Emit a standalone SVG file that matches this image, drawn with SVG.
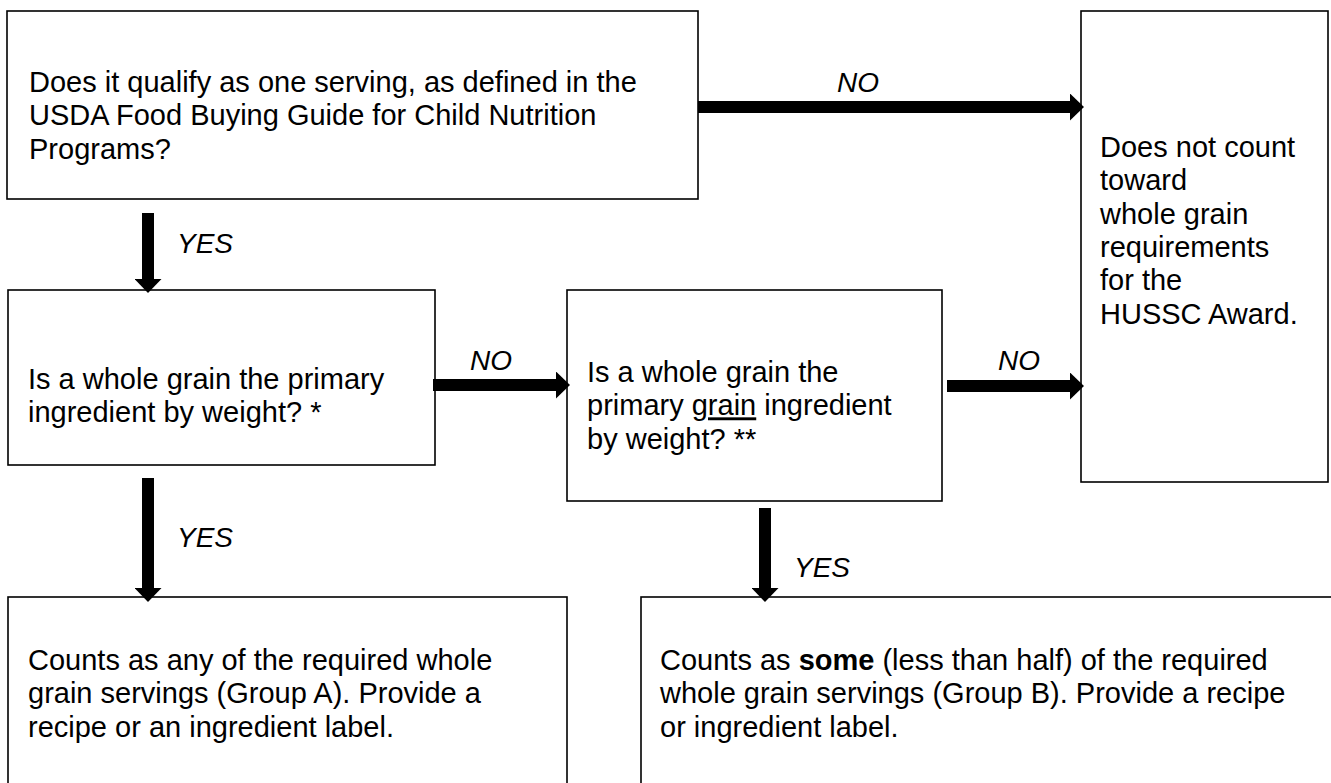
<svg xmlns="http://www.w3.org/2000/svg" width="1331" height="783" viewBox="0 0 1331 783">
<style>
.box{fill:#fff;stroke:#000;stroke-width:1.6}
.t{font-family:"Liberation Sans",Arial,sans-serif;font-size:29px;fill:#000}
.lbl{font-family:"Liberation Sans",Arial,sans-serif;font-size:28px;font-style:italic;fill:#000}
.arr{stroke:#000;stroke-width:12;fill:none;marker-end:url(#head)}
</style>
<defs>
<marker id="head" markerUnits="userSpaceOnUse" markerWidth="14" markerHeight="27" refX="0" refY="13.5" orient="auto">
<path d="M0,0 L14,13.5 L0,27 Z" fill="#000"/>
</marker>
</defs>
<rect width="1331" height="783" fill="#fff"/>
<g id="q1">
<rect class="box" x="7" y="11" width="691" height="188"/>
<text class="t" x="29" y="92"><tspan x="29">Does it qualify as one serving, as defined in the</tspan><tspan x="29" dy="33.35">USDA Food Buying Guide for Child Nutrition</tspan><tspan x="29" dy="33.35">Programs?</tspan></text>
</g>
<g id="notcount">
<rect class="box" x="1081" y="11" width="247" height="471"/>
<text class="t" x="1100" y="157"><tspan x="1100">Does not count</tspan><tspan x="1100" dy="33.35">toward</tspan><tspan x="1100" dy="33.35">whole grain</tspan><tspan x="1100" dy="33.35">requirements</tspan><tspan x="1100" dy="33.35">for the</tspan><tspan x="1100" dy="33.35">HUSSC Award.</tspan></text>
</g>
<g id="q2">
<rect class="box" x="8" y="290" width="427" height="175"/>
<text class="t" x="28" y="389"><tspan x="28">Is a whole grain the primary</tspan><tspan x="28" dy="33.35">ingredient by weight? *</tspan></text>
</g>
<g id="q3">
<rect class="box" x="567" y="290" width="375" height="211"/>
<text class="t" x="587" y="382"><tspan x="587">Is a whole grain the</tspan><tspan x="587" dy="33.35">primary <tspan text-decoration="underline">grain</tspan> ingredient</tspan><tspan x="587" dy="33.35">by weight? **</tspan></text>
</g>
<g id="groupA">
<rect class="box" x="8" y="597" width="559" height="200"/>
<text class="t" x="28" y="670"><tspan x="28">Counts as any of the required whole</tspan><tspan x="28" dy="33.35">grain servings (Group A). Provide a</tspan><tspan x="28" dy="33.35">recipe or an ingredient label.</tspan></text>
</g>
<g id="groupB">
<rect class="box" x="641" y="597" width="700" height="200"/>
<text class="t" x="660" y="670"><tspan x="660">Counts as <tspan font-weight="bold">some</tspan> (less than half) of the required</tspan><tspan x="660" dy="33.35">whole grain servings (Group B). Provide a recipe</tspan><tspan x="660" dy="33.35">or ingredient label.</tspan></text>
</g>
<g id="connectors">
<line class="arr" x1="698" y1="107" x2="1070" y2="107"/>
<line class="arr" x1="148" y1="213" x2="148" y2="279"/>
<line class="arr" x1="433" y1="385" x2="556" y2="385"/>
<line class="arr" x1="947" y1="386" x2="1070" y2="386"/>
<line class="arr" x1="148" y1="478" x2="148" y2="588"/>
<line class="arr" x1="765" y1="508" x2="765" y2="588"/>
<text class="lbl" x="837" y="92">NO</text>
<text class="lbl" x="177" y="253">YES</text>
<text class="lbl" x="470" y="370">NO</text>
<text class="lbl" x="998" y="370">NO</text>
<text class="lbl" x="177" y="547">YES</text>
<text class="lbl" x="794" y="577">YES</text>
</g>
</svg>
